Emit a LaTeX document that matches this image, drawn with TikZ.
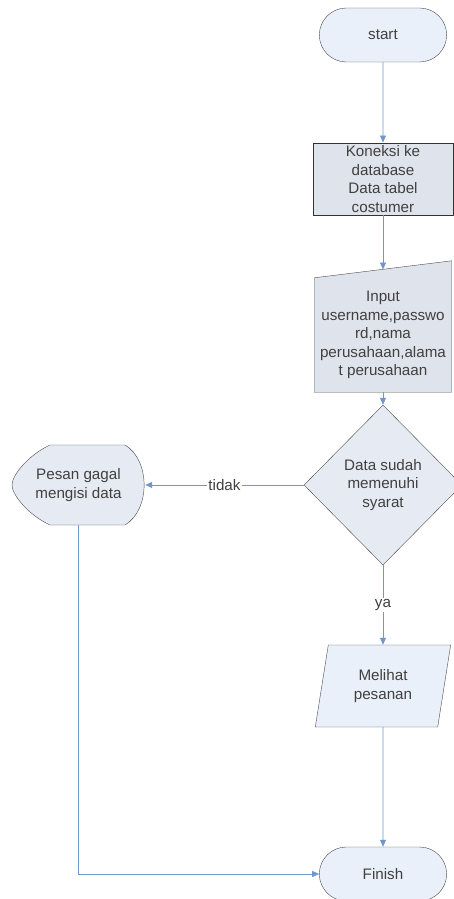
\documentclass[tikz,border=0pt]{standalone}
\usepackage{fontspec}
\setmainfont{Liberation Sans}
\usetikzlibrary{shapes.geometric,shapes.misc,arrows.meta,backgrounds}
\definecolor{lineblue}{HTML}{7096CF}
\definecolor{termfill}{HTML}{EAF0F9}
\definecolor{boxfill}{HTML}{DFE4EC}
\definecolor{softfill}{HTML}{E6EBF3}
\definecolor{textgray}{HTML}{404040}
\definecolor{edgegray}{HTML}{4A4A4A}

\begin{document}
\begin{tikzpicture}[x=1pt, y=1pt, font=\fontsize{15.2}{18.4}\selectfont, text=textgray,
  >={Triangle[length=7pt,width=6pt]},
  term/.style={rounded rectangle, draw=edgegray, fill=termfill, minimum width=134pt, minimum height=54pt},
  procbox/.style={rectangle, draw=black!80, line width=0.9pt, fill=boxfill, minimum width=140pt, minimum height=72pt, align=center, inner sep=1pt},
  holder/.style={rectangle, align=center, inner sep=0pt},
  decision/.style={diamond, draw=edgegray, fill=softfill, minimum width=158pt, minimum height=160pt, inner sep=0pt, align=center},
  iobox/.style={trapezium, trapezium left angle=78, trapezium right angle=102, trapezium stretches=true, draw=edgegray, fill=termfill, minimum width=136pt, minimum height=82pt, inner sep=0pt, align=center},
  flow/.style={draw=lineblue, line width=0.8pt},
  answer/.style={fill=white, inner sep=1pt}]
  \useasboundingbox (-383,35) rectangle (71,-864);
  \node(start)[term] {start};
  \node(conn)[procbox, node distance=144pt, below of=start] {Koneksi ke\\database\\Data tabel\\costumer};
  \node(input)[holder, minimum width=137pt, minimum height=114pt, node distance=156pt, below of=conn] {Input\\username,passwo\\rd,nama\\perusahaan,alama\\t perusahaan};
  \node(decide)[decision, node distance=150pt, below of=input] {Data sudah\\memenuhi\\syarat};
  \node(fail)[holder, minimum width=133pt, minimum height=80pt, node distance=304.5pt, left of=decide] {Pesan gagal\\mengisi data};
  \node(view)[iobox, node distance=201pt, below of=decide] {Melihat\\pesanan};
  \node(finish)[term, node distance=188pt, below of=view] {Finish};
  \coordinate (intop) at ([yshift=8.3pt]input.north);
  % manual input and display shapes
  \begin{scope}[on background layer]
    \draw[edgegray, fill=boxfill] (input.south west) -- (input.north west) -- ([yshift=17pt]input.north east) -- (input.south east) -- cycle;
    \draw[edgegray, fill=softfill, shift={(fail.center)}] (-28.5,40) -- (46.5,40) .. controls (72,25) and (72,-25) .. (46.5,-40) -- (-28.5,-40) .. controls (-50,-30) and (-66.5,-10) .. (-66.5,0) .. controls (-66.5,10) and (-50,30) .. (-28.5,40) -- cycle;
  \end{scope}
  \draw[->, flow] (start) -- (conn);
  \draw[->, flow] (conn) -- (intop);
  \draw[->, flow] (input) -- (decide);
  \draw[->, flow] (decide) -- (fail) node[midway, answer] {tidak};
  \draw[->, flow] (decide) -- (view) node[midway, answer] {ya};
  \draw[->, flow] (view) -- (finish);
  \draw[->, flow] (fail) |- (finish);
\end{tikzpicture}
\end{document}
